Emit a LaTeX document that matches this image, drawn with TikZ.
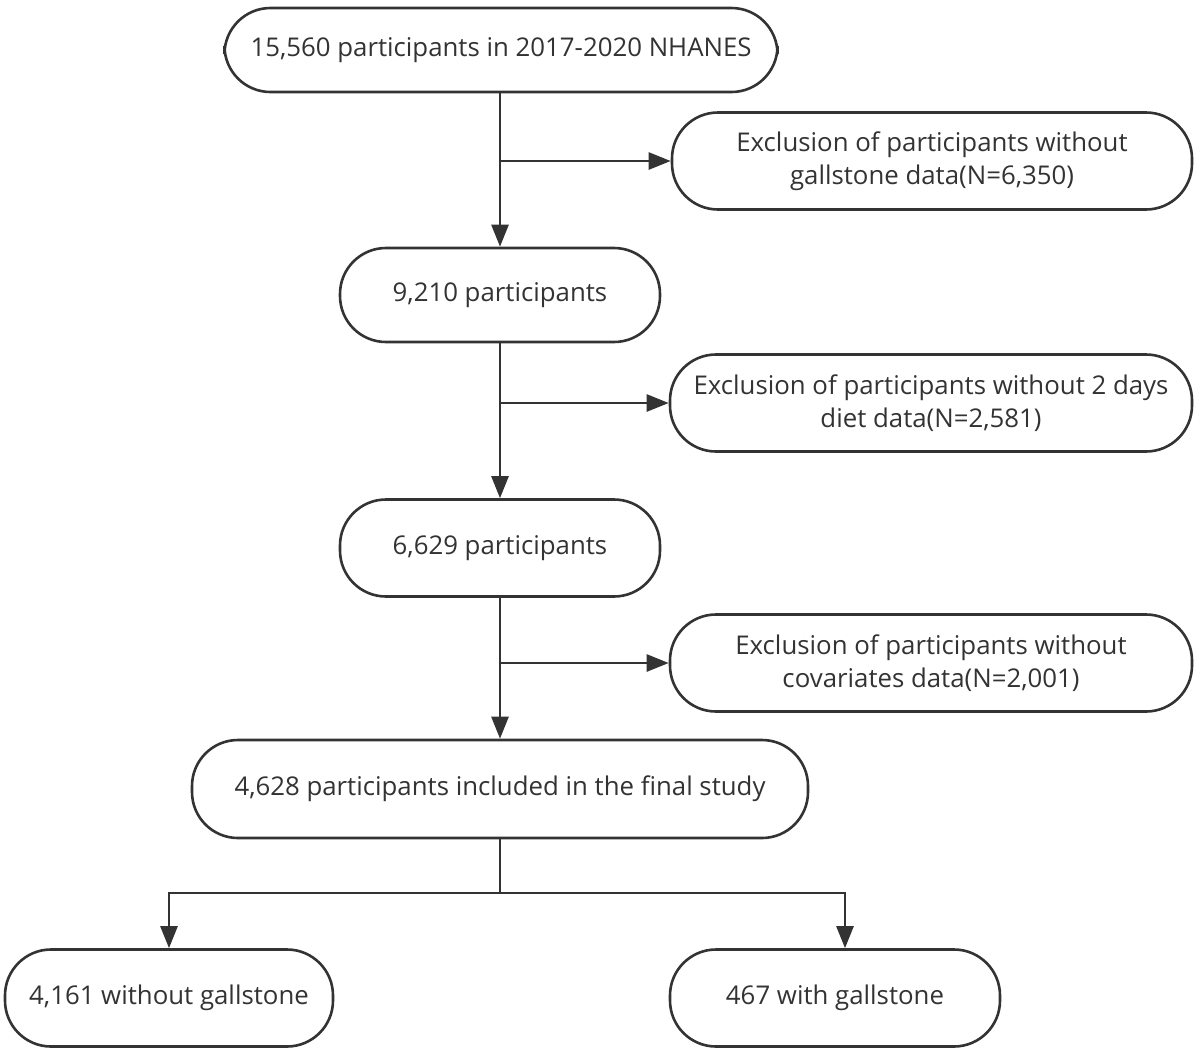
\documentclass[tikz,border=0pt]{standalone}
\usepackage{fontspec}
\setmainfont{Open Sans}
\usetikzlibrary{arrows.meta}
\definecolor{ink}{HTML}{333333}
\begin{document}
\begin{tikzpicture}[x=1pt,y=-1pt,
  box/.style={draw=ink, line width=2.6pt, rounded corners=46pt, text=ink,
    font=\fontsize{25.8}{33}\selectfont, align=center, inner sep=0pt},
  arr/.style={draw=ink, line width=2.6pt, -{Triangle[length=22pt,width=17pt]}},
  ln/.style={draw=ink, line width=2.6pt}]
\useasboundingbox (0,0) rectangle (1200,1053);
\fill[white] (0,0) rectangle (1200,1053);
\node[box, minimum width=553pt, minimum height=84pt] (b1) at (501,50) {15,560 participants in 2017-2020 NHANES};
\node[box, minimum width=520pt, minimum height=97pt] (e1) at (932,161) {Exclusion of participants without\\gallstone data(N=6,350)};
\node[box, minimum width=320pt, minimum height=94pt] (b2) at (500,295) {9,210 participants};
\node[box, minimum width=522pt, minimum height=97pt] (e2) at (931,403) {Exclusion of participants without 2 days\\diet data(N=2,581)};
\node[box, minimum width=320pt, minimum height=97pt] (b3) at (500,548) {6,629 participants};
\node[box, minimum width=522pt, minimum height=97pt] (e3) at (931,663) {Exclusion of participants without\\covariates data(N=2,001)};
\node[box, minimum width=616pt, minimum height=98pt] (b4) at (500,789) {4,628 participants included in the final study};
\node[box, minimum width=328pt, minimum height=97pt] (b5) at (169,998) {4,161 without gallstone};
\node[box, minimum width=330pt, minimum height=97pt] (b6) at (835,998) {467 with gallstone};
\coordinate (sp) at (500,893);
\draw[arr] (b1.south -| b2.north) -- (b2.north);
\draw[arr] (b2.north |- e1.west) -- (e1.west);
\draw[arr] (b2.south) -- (b3.north);
\draw[arr] (b3.north |- e2.west) -- (e2.west);
\draw[arr] (b3.south) -- (b4.north);
\draw[arr] (b4.north |- e3.west) -- (e3.west);
\draw[ln] (b4.south) -- (sp);
\draw[arr] (sp) -| (b5.north);
\draw[arr] (sp) -| ([xshift=10pt]b6.north);
\end{tikzpicture}
\end{document}
